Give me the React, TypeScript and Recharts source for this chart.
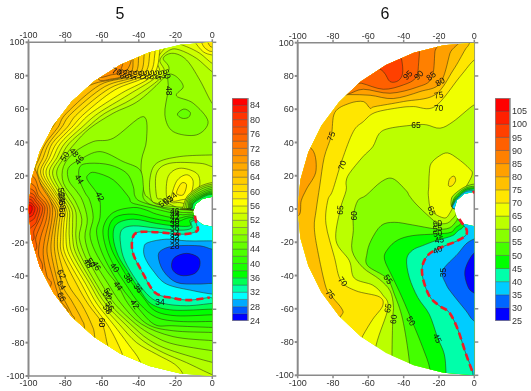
import React from 'react'
import { ScatterChart, Scatter, XAxis, YAxis } from 'recharts'

type Pt = [number, number]

const xTicks = [-100, -80, -60, -40, -20, 0]
const yTicks = [-100, -80, -60, -40, -20, 0, 20, 40, 60, 80, 100]

// band colours, lowest band first
const levels5 = [24, 26, 28, 30, 32, 34, 36, 38, 40, 42, 44, 46, 48, 50, 52, 54, 56, 58, 60, 62, 64, 66, 68, 70, 72, 74, 76, 78, 80, 82, 84]
const colors5 = ['#0000ff', '#0055ff', '#00aaff', '#00ffff', '#00ffaa', '#00ff55', '#00ff00', '#1aff00', '#33ff00', '#4dff00', '#66ff00', '#80ff00', '#99ff00', '#b3ff00', '#ccff00', '#e6ff00', '#ffff00', '#ffee00', '#ffdd00', '#ffcc00', '#ffbb00', '#ffaa00', '#ff9900', '#ff8800', '#ff7700', '#ff6600', '#ff5500', '#ff4400', '#ff3300', '#ff1a00', '#ff0000']
const barTicks5 = [24, 28, 32, 36, 40, 44, 48, 52, 56, 60, 64, 68, 72, 76, 80, 84]

const levels6 = [25, 30, 35, 40, 45, 50, 55, 60, 65, 70, 75, 80, 85, 90, 95, 100, 105]
const colors6 = ['#0000ff', '#0066ff', '#00ccff', '#00ffaa', '#00ff00', '#44ff00', '#88ff00', '#bbff00', '#f0ff00', '#ffe600', '#ffc000', '#ffa000', '#ff8000', '#ff6000', '#ff4000', '#ff2000', '#ff0000']
const barTicks6 = [25, 30, 35, 40, 45, 50, 55, 60, 65, 70, 75, 80, 85, 90, 95, 100, 105]

// measured half disc, hole cut out at the origin
const outline5: Pt[] = [[0, 100], [-17.4, 98.5], [-34.2, 94], [-50, 86.6], [-64.3, 76.6], [-76.6, 64.3], [-86.6, 50], [-94, 34.2], [-98.5, 17.4], [-100, 0], [-98.5, -17.4], [-94, -34.2], [-86.6, -50], [-76.6, -64.3], [-64.3, -76.6], [-50, -86.6], [-34.2, -94], [-17.4, -98.5], [0, -100], [0, -10.5], [-5.25, -9.3], [-9.1, -6], [-10.5, -1.5], [-9.1, 3], [-5.25, 6.3], [0, 7.5]]
const outline6: Pt[] = [[0, 100], [-17.4, 98.5], [-34.2, 94], [-50, 86.6], [-64.3, 76.6], [-76.6, 64.3], [-86.6, 50], [-94, 34.2], [-98.5, 17.4], [-100, 0], [-98.5, -17.4], [-94, -34.2], [-86.6, -50], [-76.6, -64.3], [-64.3, -76.6], [-50, -86.6], [-34.2, -94], [-17.4, -98.5], [0, -100], [0, -10.4], [-5.7, -9], [-9.8, -5.2], [-11.3, 0], [-9.8, 5.2], [-5.7, 9], [0, 10.4]]

const outer: Pt[] = [[6, -112], [-112, -112], [-112, 112], [6, 112]]

// panel 5: contours, regions above a level
const up50: Pt[] = [[3, 63.5], [-0.1, 63.5], [-6.8, 77.4], [-14, 89.4], [-21.3, 93.4], [-26.7, 90.4], [-24, 82.4], [-39.4, 65.5], [-53.9, 57.5], [-66.6, 48.5], [-74.7, 39.5], [-80.2, 31.5], [-84.7, 21.6], [-80, 10], [-74.7, 0], [-74, -8], [-74.2, -17], [-72, -27], [-63, -45], [-55.7, -57], [-44.5, -69], [-34.9, -78], [-23.1, -84.4], [-0.1, -91.8], [4, -92]]
const up52: Pt[] = [[3, 82.4], [-0.1, 82.4], [-8.6, 90.4], [-17.7, 95.4], [-23.1, 95.4], [-28.5, 89.4], [-26.7, 80.4], [-43, 66.5], [-58.4, 57.5], [-68, 49], [-77.8, 39.5], [-82.5, 31], [-86.9, 21.6], [-82, 10], [-76.5, 0], [-76, -8], [-76, -17], [-74, -27], [-64.8, -45], [-57.9, -57], [-47.4, -69], [-37.6, -79], [-26.7, -86], [-14, -92], [-0.5, -99], [4, -100]]
const up54: Pt[] = [[3, 87.4], [-0.1, 87.4], [-6.8, 93.4], [-14, 97.4], [-21.3, 99.8], [-24.9, 97.4], [-30.3, 89.4], [-29.4, 80.4], [-45.7, 68.5], [-62, 57.5], [-71, 49], [-80.2, 39.5], [-84.5, 31], [-88.7, 21.6], [-83.5, 10], [-78, 0], [-77.8, -8], [-77.8, -17], [-76, -27], [-66.6, -45], [-60.2, -57], [-50.6, -69], [-41.2, -80], [-30.3, -87], [-20.4, -93], [-15.8, -99.2], [-15, -106]]
const up56: Pt[] = [[-28, 104], [-28.5, 95.4], [-32.2, 80.4], [-49.4, 69.5], [-66, 57.5], [-74, 49], [-82.6, 39.5], [-86.5, 31], [-90.5, 21.6], [-85, 10], [-79.3, 0], [-79.2, -8], [-79.6, -17], [-78, -27], [-68.8, -45], [-62.6, -57], [-53.9, -69], [-45.7, -81], [-39.4, -91], [-36, -104]]
const up58: Pt[] = [[-31, 104], [-31.2, 93.4], [-34.9, 80.4], [-53, 71.5], [-69.3, 57.5], [-76.5, 49], [-84.7, 39.5], [-88.5, 31], [-92, 21.6], [-86, 10], [-80.3, 0], [-80.7, -8], [-81.1, -17], [-80, -27], [-71.1, -45], [-65.1, -57], [-57.2, -69], [-52.1, -79], [-47.6, -91], [-45, -104]]
const up60: Pt[] = [[-34, 104], [-34, 93.4], [-37.6, 80.4], [-55.7, 72.5], [-73, 57.5], [-79, 49], [-87, 39.5], [-90, 31], [-93.4, 21.6], [-87.3, 10], [-81.6, 0], [-82, -8], [-82.5, -17], [-81.8, -27], [-73.8, -45], [-67.5, -57], [-60.2, -68], [-57.5, -79], [-55.7, -89], [-54, -104]]
const up62: Pt[] = [[-37, 104], [-37, 93], [-40.3, 80.4], [-58.4, 73.5], [-76.5, 57.5], [-82, 49], [-88.8, 39.5], [-92, 31], [-95, 21.6], [-88.7, 10], [-82.9, 0], [-83.3, -8], [-84.2, -17], [-83.6, -27], [-78.4, -45], [-71.1, -57], [-65.7, -69], [-63.9, -77], [-62, -104]]
const up64: Pt[] = [[-40, 104], [-40, 92], [-43, 80.4], [-61.1, 74.5], [-79.3, 57.5], [-84, 49], [-90.6, 39.5], [-94, 31], [-96.5, 21.6], [-90, 10], [-84.4, 0], [-84.8, -8], [-85.8, -17], [-85.5, -27], [-81.6, -45.5], [-76.5, -55], [-71.1, -66], [-69.3, -73], [-67, -104]]
const up66: Pt[] = [[-43, 104], [-43, 91], [-45.7, 80.4], [-63.9, 75.4], [-72, 70], [-82, 57.5], [-87, 49], [-93, 39.5], [-96, 31], [-98, 21.6], [-91.5, 10], [-85.6, 0], [-86, -8], [-87.4, -17], [-87.5, -27], [-83.8, -45], [-81.1, -53], [-76.5, -63], [-74.7, -69], [-74, -104]]
const up68top: Pt[] = [[-48.5, 80.4], [-55, 78], [-62, 78], [-60, 90], [-46, 104], [-44, 90]]
const up70top: Pt[] = [[-50, 83], [-55, 80.5], [-62, 80], [-55, 95], [-48, 95]]
const up68: Pt[] = [[-104, 30], [-97, 25], [-93, 14], [-88.5, 6], [-86.9, 0], [-87.5, -8], [-89, -17], [-89.8, -27], [-85.6, -45], [-83, -54], [-80, -64], [-110, -70]]
const up70: Pt[] = [[-110, 22], [-98, 20], [-94, 11], [-90, 5], [-88.3, 0], [-89, -8], [-91, -17], [-92, -27], [-90, -40], [-88, -46], [-100, -60], [-110, -60]]
const up72: Pt[] = [[-110, 17], [-98, 15], [-94.5, 8], [-91, 4], [-89.7, 0], [-90.5, -7], [-93.4, -17], [-94.5, -27], [-92.5, -36], [-100, -50], [-110, -50]]
const up74: Pt[] = [[-110, 14], [-98.5, 12], [-95, 7], [-92, 3], [-91.1, 0], [-92.5, -7], [-96, -17], [-96.5, -25], [-110, -35]]
const up76: Pt[] = [[-110, 11], [-98.5, 9.5], [-95.5, 5.5], [-93, 2.5], [-92.3, 0], [-93.5, -5], [-97, -13], [-98, -19], [-110, -25]]
const up78: Pt[] = [[-110, 9], [-99, 7.5], [-96, 4.5], [-94.3, 2], [-93.8, 0], [-95, -5], [-97.5, -10], [-110, -18]]
const up80: Pt[] = [[-110, 7], [-99.5, 6], [-97, 3.5], [-95.5, 1.5], [-95, 0], [-96, -3.5], [-98.5, -7], [-110, -12]]
const up82: Pt[] = [[-110, 5], [-99.5, 4], [-97.5, 2.5], [-96.5, 1], [-96.5, 0], [-97, -2], [-99, -4.5], [-110, -8]]
const up84: Pt[] = [[-110, 3], [-99.5, 2.5], [-98, 0.5], [-98.5, -1.5], [-100, -3], [-110, -5]]
const corner56: Pt[] = [[-10, 104], [-9.5, 100.4], [-5, 94.4], [-0.1, 92.4], [5, 92], [5, 106]]
const corner58: Pt[] = [[-6, 104], [-5, 98], [-2, 95], [0, 94.5], [5, 94], [5, 106]]
const corner60: Pt[] = [[-3, 104], [-2, 99], [0, 97], [5, 97], [5, 106]]
// warm patch above the hole
const hot50: Pt[] = [[-33.1, 5.6], [-34, 17.6], [-30.3, 27.5], [-17.7, 31.5], [-0.1, 32.5], [5, 32.5], [5, -1], [-8, -1], [-14, -1.5], [-23, -1], [-29, 3]]
const hot52: Pt[] = [[-30.3, 7.6], [-30.3, 21.6], [-23.1, 27.5], [-6.8, 27.5], [-0.1, 25.5], [5, 25], [5, -1], [-13, -1], [-23.1, 3], [-27.6, 6]]
const hot54: Pt[] = [[-24.9, 7.6], [-24, 19.6], [-17.7, 24.5], [-8.6, 21.6], [-6.8, 14.6], [-9.5, 7.6], [-12.2, 3], [-17.7, 4], [-22.2, 4]]
const hot56: Pt[] = [[-22.2, 5.6], [-19.5, 16.6], [-14, 20.6], [-10.4, 16.6], [-12.2, 7.6], [-16.8, 5.6]]
const hot58: Pt[] = [[-19.5, 9.6], [-16.8, 15.6], [-14, 14.6], [-15.8, 8.6]]
// regions below a level
const low48: Pt[] = [[-75.2, 33.9], [-64.8, 40.5], [-53.9, 42.5], [-37.6, 55.5], [-35.8, 41.5], [-38.5, 29.5], [-38.5, 17.6], [-36.7, 9], [-34.9, 7], [-30.3, 3], [-19.5, 1.4], [-12.6, 1], [-8, 0.5], [5, 0.5], [5, -85], [-0.1, -84.8], [-21.3, -80.8], [-32.2, -75.8], [-41.6, -68.9], [-53, -56.9], [-60.2, -44.9], [-66.6, -32.5], [-69.3, -28], [-72.4, -17], [-71, -6], [-74.7, 5], [-81, 15.6], [-81, 25.5]]
const low48top: Pt[] = [[-24, 80.4], [-19.5, 79.4], [-15.8, 73.4], [-19.5, 67.9], [-10.4, 63.5], [-2.3, 52.5], [-8.6, 44.5], [-21.3, 46.5], [-25.8, 56.5], [-24, 71.5]]
const low46top: Pt[] = [[-19, 57], [-15.5, 60], [-12, 58], [-13, 55], [-16.5, 54.5]]
const low46: Pt[] = [[-72.4, 29.5], [-61.1, 34.5], [-48.5, 28.5], [-39.4, 23.6], [-37.5, 13.6], [-37.6, 7], [-33, 2.6], [-19.5, 0], [-12.2, -0.6], [-8, -1], [5, -1], [5, -79], [-0.1, -78.8], [-21.3, -76.4], [-38.5, -68.9], [-49.4, -56.9], [-56.6, -44.9], [-63, -33.9], [-66.6, -28], [-69.3, -17], [-68, -6], [-70.6, 5], [-74, 11], [-78, 17], [-78.4, 24.5]]
const low44: Pt[] = [[-72, 25.5], [-66.6, 27.5], [-55.7, 26.5], [-46.6, 21.6], [-43, 13.6], [-42, 7.6], [-37.6, 4], [-19.5, -1.4], [-11.9, -2], [5, -2.5], [5, -74], [-0.1, -73.9], [-21.3, -72.9], [-35.4, -68.9], [-45.7, -56.9], [-51.2, -45.9], [-57.5, -36.9], [-63.9, -25], [-66.6, -15], [-64.8, -5], [-66.6, 5], [-69.3, 10], [-72.4, 18.2]]
const low42: Pt[] = [[-67.5, 20.6], [-63.9, 22], [-53.9, 17.6], [-45.7, 7.6], [-44, 4], [-37.6, 2], [-18.6, -3], [-11.3, -3], [5, -3.5], [5, -71], [-0.1, -70.9], [-21.3, -69.9], [-31.8, -68.9], [-42.1, -56.9], [-49.4, -46.9], [-56.6, -33.9], [-61.1, -23], [-63, -13], [-61.1, -5], [-61.1, 5], [-63, 10], [-68, 17.6]]
const low40: Pt[] = [[-11.3, -4], [-19.5, -5.4], [-30.3, -3], [-35.8, -0.6], [-43, 1], [-53.9, -2], [-59.3, -11], [-57.9, -23], [-53, -34.9], [-46.6, -45.9], [-39.4, -56.9], [-30.3, -64.9], [-17.7, -67.3], [-0.1, -67.3], [5, -67.3], [5, -4.5]]
const low38: Pt[] = [[-11.3, -5], [-19.5, -7.4], [-30.3, -6], [-43, -3], [-53, -5], [-56.6, -13], [-54.8, -24], [-49.4, -34.9], [-45.7, -41.3], [-37.6, -52.9], [-31.2, -60.9], [-19.5, -63.9], [-0.1, -63.3], [5, -63.3], [5, -6]]
const low36: Pt[] = [[-11, -6], [-12.2, -10], [-20.4, -10], [-30.3, -8.6], [-43, -6], [-52.1, -9], [-53.9, -17], [-51.2, -27.9], [-45.7, -37.9], [-39.4, -48.5], [-33.1, -56.9], [-21.3, -60.5], [-0.1, -59.9], [5, -59.9], [5, -7]]
const low34: Pt[] = [[-10.4, -7], [-11.3, -11.4], [-17.7, -12.6], [-30.3, -11.4], [-43, -10], [-49.4, -12.6], [-49.9, -21], [-47.6, -30.9], [-41.2, -42.9], [-34, -52.5], [-26.7, -56.5], [-14, -57.9], [-0.1, -56.5], [5, -56.5], [5, -8]]
const dash5: Pt[] = [[-9.5, -4], [-8.6, -9], [-8.2, -13], [-15.8, -15], [-30.3, -13.8], [-40.9, -14], [-43.6, -19], [-43, -26.9], [-38.5, -36.9], [-31.2, -49.9], [-21.3, -53.3], [-12.2, -54.5], [-1.4, -52.9]]
const low32: Pt[] = [...dash5, [5, -52.9], [5, -8]]
const low30: Pt[] = [[-37.2, -23], [-34.9, -20], [-24.9, -18], [-14, -19], [-0.1, -19], [5, -19], [5, -51], [-0.1, -50.9], [-10.4, -48.9], [-24.9, -44.9], [-32.2, -36.9], [-36.7, -28.9]]
const low28: Pt[] = [[-29.4, -27.9], [-26.7, -24], [-19.5, -22], [-6.8, -22], [-0.1, -24], [5, -24], [5, -45], [-0.1, -44.5], [-8.6, -44.9], [-19.5, -43.9], [-26.7, -36.9]]
const low26: Pt[] = [[-22.2, -33.9], [-20.4, -28.9], [-14, -26.5], [-7.7, -28.9], [-6.8, -33.9], [-9.5, -38.5], [-15.8, -39.9], [-20.4, -37.9]]
// tight rings on top of the hole
const ring52: Pt[] = [[-16, 1], [-13.5, 8], [-7, 13.5], [0, 16], [5, 16], [5, 0], [-16, 0]]
const ring50: Pt[] = [[-15, 1], [-13, 7.5], [-6.5, 12.8], [0, 15], [5, 15], [5, 0], [-15, 0]]
const ring48: Pt[] = [[-14, 1], [-12.5, 7], [-6, 12], [0, 14], [5, 14], [5, 0], [-14, 0]]
const ring46: Pt[] = [[-13, 1], [-12, 6.5], [-5.5, 11], [0, 13], [5, 13], [5, 0], [-13, 0]]
const ring44: Pt[] = [[-12.5, 1], [-11.5, 6], [-5, 10.2], [0, 12], [5, 12], [5, 0], [-12.5, 0]]
const ring42: Pt[] = [[-12, 1], [-11, 5.5], [-4.5, 9.5], [0, 11], [5, 11], [5, 0], [-12, 0]]
const ring40: Pt[] = [[-11.5, 1], [-10.5, 5], [-4, 9], [0, 10.2], [5, 10.2], [5, 0], [-11.5, 0]]
const ring38: Pt[] = [[-11, 1], [-10, 4.5], [-4, 8.5], [0, 9.4], [5, 9.4], [5, 0], [-11, 0]]
const ring36: Pt[] = [[-10.8, 1], [-9.8, 4], [-3.5, 8], [0, 8.8], [5, 8.8], [5, 0], [-10.8, 0]]

const base5 = 48
const layers5: [Pt[], number][] = [
  [[...up50, ...outer], 50], [[...up52, ...outer], 52], [[...up54, ...outer], 54], [[...up56, ...outer], 56], [corner56, 56],
  [[...up58, ...outer], 58], [corner58, 58], [[...up60, ...outer], 60], [corner60, 60], [[...up62, ...outer], 62],
  [[...up64, ...outer], 64], [[...up66, ...outer], 66], [up68top, 68], [up70top, 70], [up68, 68], [up70, 70], [up72, 72],
  [up74, 74], [up76, 76], [up78, 78], [up80, 80], [up82, 82], [up84, 84],
  [hot50, 50], [hot52, 52], [hot54, 54], [hot56, 56], [hot58, 58],
  [low48, 46], [low48top, 46], [low46top, 44], [low46, 44], [low44, 42], [low42, 40], [low40, 38], [low38, 36], [low36, 34],
  [low34, 32], [low32, 30], [low30, 28], [low28, 26], [low26, 24],
  [ring52, 50], [ring50, 48], [ring48, 46], [ring46, 44], [ring44, 42], [ring42, 40], [ring40, 38], [ring38, 36], [ring36, 34],
]

const labels5 = [
  { x: -52, y: 82.5, t: '70', a: 20 }, { x: -49, y: 81, t: '68', a: 70 }, { x: -46.3, y: 81, t: '66', a: 70 }, { x: -43.6, y: 80.5, t: '64', a: 70 },
  { x: -40.9, y: 80.5, t: '62', a: 70 }, { x: -38.2, y: 80.5, t: '60', a: 70 }, { x: -35.5, y: 80.5, t: '58', a: 70 }, { x: -32.8, y: 80.5, t: '56', a: 70 },
  { x: -30.1, y: 80.5, t: '54', a: 70 }, { x: -27.4, y: 80.5, t: '52', a: 70 }, { x: -24.7, y: 81, t: '50', a: 70 },
  { x: -23.7, y: 71, t: '48', a: 90 }, { x: -80.2, y: 31.5, t: '50', a: -55 }, { x: -75.2, y: 34, t: '48', a: 50 }, { x: -72.4, y: 29.5, t: '46', a: -50 },
  { x: -72.4, y: 18, t: '44', a: 60 }, { x: -61.1, y: 7.6, t: '42', a: 65 }, { x: -82, y: 10, t: '52', a: 80 }, { x: -82, y: 7.5, t: '54', a: 80 },
  { x: -81.8, y: 5, t: '56', a: 80 }, { x: -81.5, y: 2.5, t: '58', a: 80 }, { x: -81.6, y: -2, t: '60', a: 90 },
  { x: -26.7, y: 4, t: '50', a: -40 }, { x: -24, y: 5.4, t: '52', a: -40 }, { x: -21.8, y: 7.4, t: '54', a: -40 },
  { x: -20.4, y: -1, t: '46', a: 0 }, { x: -20.4, y: -3, t: '44', a: 0 }, { x: -20.4, y: -5, t: '42', a: 0 }, { x: -20.4, y: -7, t: '40', a: 0 },
  { x: -20.4, y: -9, t: '38', a: 0 }, { x: -20.4, y: -11, t: '36', a: 0 }, { x: -20.4, y: -15, t: '34', a: 0 }, { x: -20.4, y: -16.5, t: '32', a: 0 },
  { x: -20.4, y: -18.5, t: '30', a: 0 }, { x: -20.4, y: -22, t: '28', a: 0 },
  { x: -67.5, y: -32.5, t: '48', a: 60 }, { x: -66, y: -32, t: '50', a: 60 }, { x: -63, y: -34, t: '46', a: 60 }, { x: -53, y: -35, t: '40', a: 50 },
  { x: -45.7, y: -41.3, t: '38', a: 60 }, { x: -40.3, y: -47.3, t: '36', a: 55 }, { x: -51.2, y: -46, t: '44', a: 55 }, { x: -42.1, y: -57, t: '42', a: 55 },
  { x: -28.5, y: -55.5, t: '34', a: 0 }, { x: -82, y: -39, t: '62', a: 60 }, { x: -82, y: -45.5, t: '64', a: 60 }, { x: -82, y: -52.5, t: '66', a: 60 },
  { x: -56.6, y: -50, t: '54', a: 60 }, { x: -57, y: -52, t: '52', a: 60 }, { x: -55.7, y: -58, t: '56', a: 60 }, { x: -57, y: -60, t: '58', a: 60 },
  { x: -60.2, y: -68, t: '60', a: 90 },
]

// panel 6
const up65: Pt[] = [[5, 62.6], [-0.1, 62.6], [-11.9, 52.6], [-19.4, 48.6], [-27, 50.6], [-33, 50.6], [-47.7, 48.6], [-53.8, 45.4], [-57.5, 37.4], [-63.2, 31.3], [-70.8, 21.3], [-72.6, 16.3], [-72.6, 11], [-76, -0.6], [-78.3, -19], [-70.8, -31], [-67.9, -41.6], [-57.5, -45.8], [-51.9, -51.6], [-48.9, -59.6], [-55.7, -82.3], [-60, -110], [-110, -110], [-110, 110], [5, 110]]
const patch65: Pt[] = [[-24.5, 27.3], [-19.8, 31.9], [-15.1, 33.7], [-9.4, 30.3], [-2.8, 24.3], [-1.3, 20.3], [-6.6, 10.2], [-10.4, 5], [-13.6, -2], [-17, -5.4], [-24.2, -1], [-26, 8], [-25.8, 13.3], [-25.5, 21.3]]
const oval70: Pt[] = [[-14.6, 14], [-14, 18], [-11.5, 19.8], [-10.6, 17], [-12.5, 14]]
const up70b: Pt[] = [[5, 89.6], [0, 89.6], [-8.1, 79.6], [-22.3, 61.6], [-34.5, 61.6], [-42, 61], [-56.2, 58], [-62.8, 52.6], [-68.5, 46.6], [-74.9, 29.3], [-80.2, 11.2], [-83, 5], [-84, -9], [-79.2, -29.1], [-75.5, -43.2], [-67, -49.2], [-53.8, -52.8], [-51.9, -58.2], [-57.5, -66.3], [-63.2, -76.3], [-70, -90], [-110, -90], [-110, 110], [5, 110]]
const up75: Pt[] = [[-2.8, 99.6], [-5.3, 95.6], [-11.9, 83.6], [-22.3, 68.6], [-40.2, 64.6], [-56.2, 61.6], [-59, 60.6], [-62.8, 64.6], [-70.8, 63.5], [-79, 58], [-81, 44], [-85, 31], [-87.5, 14], [-89.6, -1], [-90.6, -11], [-88.7, -25], [-84, -47.2], [-80.2, -53.2], [-74.9, -60.2], [-75.5, -64.3], [-85, -75], [-110, -75], [-110, 110], [0, 110]]
const up80b: Pt[] = [[-71.3, 68.8], [-59, 68.4], [-45.9, 66.4], [-30.8, 70.6], [-19.4, 75.6], [-13.8, 93.6], [-11, 106], [-85, 106], [-85, 68.5]]
const up80low: Pt[] = [[-93, 37], [-89.6, 23.3], [-95, 12], [-98, 5], [-99.6, -4], [-110, -4], [-110, 37]]
const up85: Pt[] = [[-71.3, 69.2], [-62.8, 72], [-47.7, 69.6], [-32.6, 73.2], [-24.2, 78.6], [-22.3, 94.6], [-21.5, 106], [-80, 106], [-80, 68.5]]
const up90: Pt[] = [[-63.8, 75.6], [-51.5, 72], [-40.2, 74.6], [-33, 79], [-31.5, 88], [-31, 97], [-31, 106], [-70, 106], [-70, 76]]
const up95: Pt[] = [[-51.5, 82.6], [-47.7, 76.6], [-43, 77.2], [-40.6, 81.6], [-41.1, 89.6], [-43, 95.6], [-45, 105], [-60, 105], [-60, 90]]
const low60: Pt[] = [[-61.3, 8.2], [-52.8, 16.3], [-46.2, 18.3], [-38.7, 11.2], [-36.8, 8], [-33, 3], [-25.5, -4.6], [-20.8, -8.4], [-15.1, -8.4], [-10.8, -4], [-8.5, -1], [5, -5], [5, -110], [-46.6, -110], [-46.6, -87.3], [-46.2, -66.3], [-45.8, -58.2], [-47.7, -49.2], [-53.8, -42.2], [-63.2, -35.1], [-69.2, -25.1], [-68.5, -13], [-68.5, -4], [-66, 5]]
const low55: Pt[] = [[-60.8, -27], [-58.5, -19], [-52.8, -10], [-45.3, -8], [-34.9, -9.6], [-21.7, -12], [-14.2, -11.4], [-10, -7], [-8, -3], [5, -5], [5, -110], [-36, -110], [-36.8, -91.4], [-40.6, -66.3], [-45.3, -51.2], [-49.6, -41.6], [-60.4, -34.1]]
const low50: Pt[] = [[-21.7, -15], [-34.9, -16], [-43.4, -18.7], [-49, -24.1], [-50.9, -30.1], [-46.2, -41.2], [-40.9, -53.2], [-34.9, -68.3], [-29.2, -83.3], [-25.1, -96.4], [-24.5, -110], [5, -110], [5, -5], [-8.9, -10], [-13.2, -14]]
const low45: Pt[] = [[-21.7, -19], [-29.2, -22], [-34.9, -24.7], [-38.3, -30.1], [-36.8, -41.2], [-32, -53.2], [-25.5, -63.3], [-20.8, -77.3], [-17, -87.3], [-16, -98.4], [-15.5, -110], [5, -110], [5, -8], [-7.5, -12], [-12.3, -16]]
const dash6: Pt[] = [[-8.5, -6], [-6.6, -9], [-4.3, -12.7], [-5, -16], [-10.4, -19.5], [-17.9, -22.7], [-25.5, -27], [-29.2, -33.5], [-29.2, -41.2], [-25.5, -52.2], [-19.8, -58.2], [-14.2, -62.2], [-9.4, -72.3], [-4.7, -87.3], [-0.9, -98.4]]
const dash6top: Pt[] = [[-0.6, 11], [0, 9.5]]
const low40b: Pt[] = [...dash6, [-0.5, -110], [5, -110], [5, -6]]
const low35: Pt[] = [[0, -18], [-4.7, -21], [-9.4, -27], [-17.9, -37], [-16, -45.2], [-12.3, -51.2], [-4.7, -61.2], [-0.6, -66.9], [5, -68], [5, -17]]
const low30b: Pt[] = [[-0.6, -27], [-5.3, -37], [-3.8, -46.2], [-0.6, -50.2], [5, -51], [5, -26]]
const ring60: Pt[] = [[-13, 6], [-10, 10], [-5, 13.5], [0, 15], [5, 15], [5, 0], [-11, 0]]
const ring55: Pt[] = [[-12, 5], [-9, 9.5], [-4.5, 12.8], [0, 13.7], [5, 14], [5, 0], [-11, 0]]
const ring50b: Pt[] = [[-11.8, 4.5], [-8.6, 8.8], [-4.5, 12], [0, 12.8], [5, 12.8], [5, 0], [-11, 0]]
const ring45: Pt[] = [[-11.5, 4], [-8.3, 8.2], [-4.5, 11.2], [0, 12], [5, 12], [5, 0], [-11, 0]]
const ring40b: Pt[] = [[-11.4, 3.5], [-8, 7.8], [-4.5, 10.6], [0, 11], [5, 11], [5, 0], [-11, 0]]

const base6 = 60
const layers6: [Pt[], number][] = [
  [up65, 65], [patch65, 65], [oval70, 70], [up70b, 70], [up75, 75], [up80b, 80], [up80low, 80], [up85, 85], [up90, 90], [up95, 95],
  [low60, 55], [low55, 50], [low50, 45], [low45, 40], [low40b, 35], [low35, 30], [low30b, 25],
  [ring60, 55], [ring55, 50], [ring50b, 45], [ring45, 40], [ring40b, 35],
]

const labels6 = [
  { x: -37.7, y: 80.5, t: '95', a: -45 }, { x: -31.5, y: 80.5, t: '90', a: -45 }, { x: -24.5, y: 80, t: '85', a: -40 }, { x: -19.4, y: 76.5, t: '80', a: -30 },
  { x: -20.2, y: 68.5, t: '75', a: -10 }, { x: -20.2, y: 61, t: '70', a: 0 }, { x: -33, y: 50.4, t: '65', a: 0 }, { x: -81.1, y: 43.8, t: '75', a: -70 },
  { x: -74.9, y: 26.3, t: '70', a: -70 }, { x: -76, y: -0.6, t: '65', a: -85 }, { x: -67.9, y: -4, t: '60', a: -90 }, { x: -24.2, y: -1, t: '65', a: 70 },
  { x: -20.8, y: -8.6, t: '60', a: -10 }, { x: -20.8, y: -11.5, t: '55', a: -10 }, { x: -20.8, y: -14.5, t: '50', a: -10 }, { x: -19.8, y: -18.5, t: '45', a: -10 },
  { x: -20.8, y: -24.5, t: '40', a: -25 }, { x: -17.5, y: -38.2, t: '35', a: -90 }, { x: -48.7, y: -42.2, t: '55', a: 55 }, { x: -74.5, y: -43.6, t: '70', a: 50 },
  { x: -81.5, y: -51.2, t: '75', a: 50 }, { x: -49, y: -59.6, t: '65', a: -80 }, { x: -45.8, y: -66.3, t: '60', a: -85 }, { x: -35.8, y: -67.3, t: '50', a: 60 },
  { x: -20.8, y: -77.7, t: '45', a: 65 },
]

const font = 'Liberation Sans, Arial, sans-serif'
const axisGray = '#8a8a8a'
const tickStyle = { fontSize: 9, fill: '#333', fontFamily: font }

const rows = (pts: Pt[]) => pts.map(([x, y]) => ({ x, y }))

// catmull-rom through the read points
function smoothPath(p: { x: number; y: number }[], closed: boolean) {
  const n = p.length
  const at = (i: number) => (closed ? p[(i + n) % n] : p[Math.max(0, Math.min(n - 1, i))])
  let d = `M${p[0].x},${p[0].y}`
  const end = closed ? n : n - 1
  for (let i = 0; i < end; i++) {
    const p0 = at(i - 1), p1 = at(i), p2 = at(i + 1), p3 = at(i + 2)
    d += `C${p1.x + (p2.x - p0.x) / 6},${p1.y + (p2.y - p0.y) / 6} ${p2.x - (p3.x - p1.x) / 6},${p2.y - (p3.y - p1.y) / 6} ${p2.x},${p2.y}`
  }
  return closed ? d + 'Z' : d
}

const straightPath = (p: { x: number; y: number }[]) => `M${p.map((q) => `${q.x},${q.y}`).join('L')}Z`

const noDot = () => <g />

function Panel({ left, width, margin, yWidth, outline, base, layers, levels, colors, labels, dashes, clipId }: any) {
  const fillOf = (band: number) => colors[levels.indexOf(band)]
  return (
    <div style={{ position: 'absolute', left, top: 0 }}>
      <ScatterChart width={width} height={391} margin={margin}>
        <XAxis xAxisId="b" dataKey="x" type="number" orientation="bottom" domain={[-100, 0]} ticks={xTicks} interval={0} allowDataOverflow height={15} tick={tickStyle} tickSize={3} tickMargin={1} stroke={axisGray} strokeWidth={1.5} />
        <XAxis xAxisId="t" dataKey="x" type="number" orientation="top" domain={[-100, 0]} ticks={xTicks} interval={0} allowDataOverflow height={20} tick={tickStyle} tickSize={3} tickMargin={1} stroke={axisGray} strokeWidth={1.5} />
        <YAxis yAxisId="l" dataKey="y" type="number" orientation="left" domain={[-100, 100]} ticks={yTicks} interval={0} allowDataOverflow width={yWidth} tick={tickStyle} tickSize={3} tickMargin={1} stroke={axisGray} strokeWidth={2} />
        <YAxis yAxisId="r" dataKey="y" type="number" orientation="right" domain={[-100, 100]} ticks={yTicks} interval={0} allowDataOverflow width={12} tick={noDot} tickSize={4} stroke={axisGray} strokeWidth={1.5} />
        <Scatter
          xAxisId="b" yAxisId="l" data={rows(outline)} isAnimationActive={false} shape={noDot}
          line={(p: any) => (
            <g>
              <clipPath id={clipId}><path d={straightPath(p.points)} /></clipPath>
              <path d={straightPath(p.points)} fill={fillOf(base)} />
            </g>
          )}
        />
        {layers.map(([pts, band]: [Pt[], number], i: number) => (
          <Scatter
            key={i} xAxisId="b" yAxisId="l" data={rows(pts)} isAnimationActive={false} shape={noDot}
            line={(p: any) => <path d={smoothPath(p.points, true)} fill={fillOf(band)} stroke="#2b2b10" strokeOpacity={0.75} strokeWidth={0.7} clipPath={`url(#${clipId})`} />}
          />
        ))}
        {dashes.map((pts: Pt[], i: number) => (
          <Scatter
            key={i} xAxisId="b" yAxisId="l" data={rows(pts)} isAnimationActive={false} shape={noDot}
            line={(p: any) => <path d={smoothPath(p.points, false)} fill="none" stroke="#ee1c25" strokeWidth={2.6} strokeDasharray="7 4" />}
          />
        ))}
        <Scatter
          xAxisId="b" yAxisId="l" data={labels} isAnimationActive={false}
          shape={(p: any) => (
            <text x={p.cx} y={p.cy} textAnchor="middle" dominantBaseline="central" fontSize={8.5} fontFamily={font} fill="#111" transform={`rotate(${p.payload.a} ${p.cx} ${p.cy})`}>{p.payload.t}</text>
          )}
        />
      </ScatterChart>
    </div>
  )
}

function ColorBar({ left, top, height, plotWidth, domain, levels, colors, ticks, step }: any) {
  return (
    <div style={{ position: 'absolute', left, top }}>
      <ScatterChart width={plotWidth + 20} height={height} margin={{ top: 10, right: 0, bottom: 10, left: 0 }}>
        <XAxis xAxisId="b" dataKey="x" type="number" domain={[0, 1]} allowDataOverflow hide />
        <YAxis yAxisId="r" dataKey="y" type="number" orientation="right" domain={domain} ticks={ticks} interval={0} allowDataOverflow width={20} tick={tickStyle} tickLine={false} tickSize={1} tickMargin={1} stroke={axisGray} strokeWidth={1.5} />
        {levels.map((lv: number, i: number) => (
          <Scatter
            key={lv} xAxisId="b" yAxisId="r" isAnimationActive={false} shape={noDot}
            data={rows([[0, lv], [1, lv], [1, lv + step], [0, lv + step]])}
            line={(p: any) => <path d={straightPath(p.points)} fill={colors[i]} stroke="#333" strokeOpacity={0.45} strokeWidth={0.7} />}
          />
        ))}
        <Scatter
          xAxisId="b" yAxisId="r" isAnimationActive={false} shape={noDot}
          data={rows([[0, domain[0]], [1, domain[0]], [1, domain[1]], [0, domain[1]]])}
          line={(p: any) => <path d={straightPath(p.points)} fill="none" stroke={axisGray} strokeWidth={1.5} />}
        />
      </ScatterChart>
    </div>
  )
}

export default function App() {
  return (
    <div style={{ position: 'absolute', left: 0, top: 0, width: 531, height: 391, background: '#fff', overflow: 'hidden', filter: 'blur(0.3px)' }}>
      <div style={{ position: 'absolute', left: 100, width: 40, top: 5, textAlign: 'center', fontSize: 16, fontFamily: font, color: '#111' }}>5</div>
      <div style={{ position: 'absolute', left: 365, width: 40, top: 5, textAlign: 'center', fontSize: 16, fontFamily: font, color: '#111' }}>6</div>
      <Panel
        left={0} width={265} margin={{ top: 22.3, right: 40.7, bottom: 0, left: 0.5 }} yWidth={28}
        outline={outline5} base={base5} layers={layers5} levels={levels5} colors={colors5} labels={labels5} dashes={[dash5]} clipId="disc5"
      />
      <Panel
        left={266} width={265} margin={{ top: 22.7, right: 44.7, bottom: 0.7, left: 1.7 }} yWidth={30}
        outline={outline6} base={base6} layers={layers6} levels={levels6} colors={colors6} labels={labels6} dashes={[dash6, dash6top]} clipId="disc6"
      />
      <ColorBar left={232} top={88} height={243} plotWidth={16} domain={[24, 86]} levels={levels5} colors={colors5} ticks={barTicks5} step={2} />
      <ColorBar left={495} top={88} height={243} plotWidth={15} domain={[25, 110]} levels={levels6} colors={colors6} ticks={barTicks6} step={5} />
    </div>
  )
}
